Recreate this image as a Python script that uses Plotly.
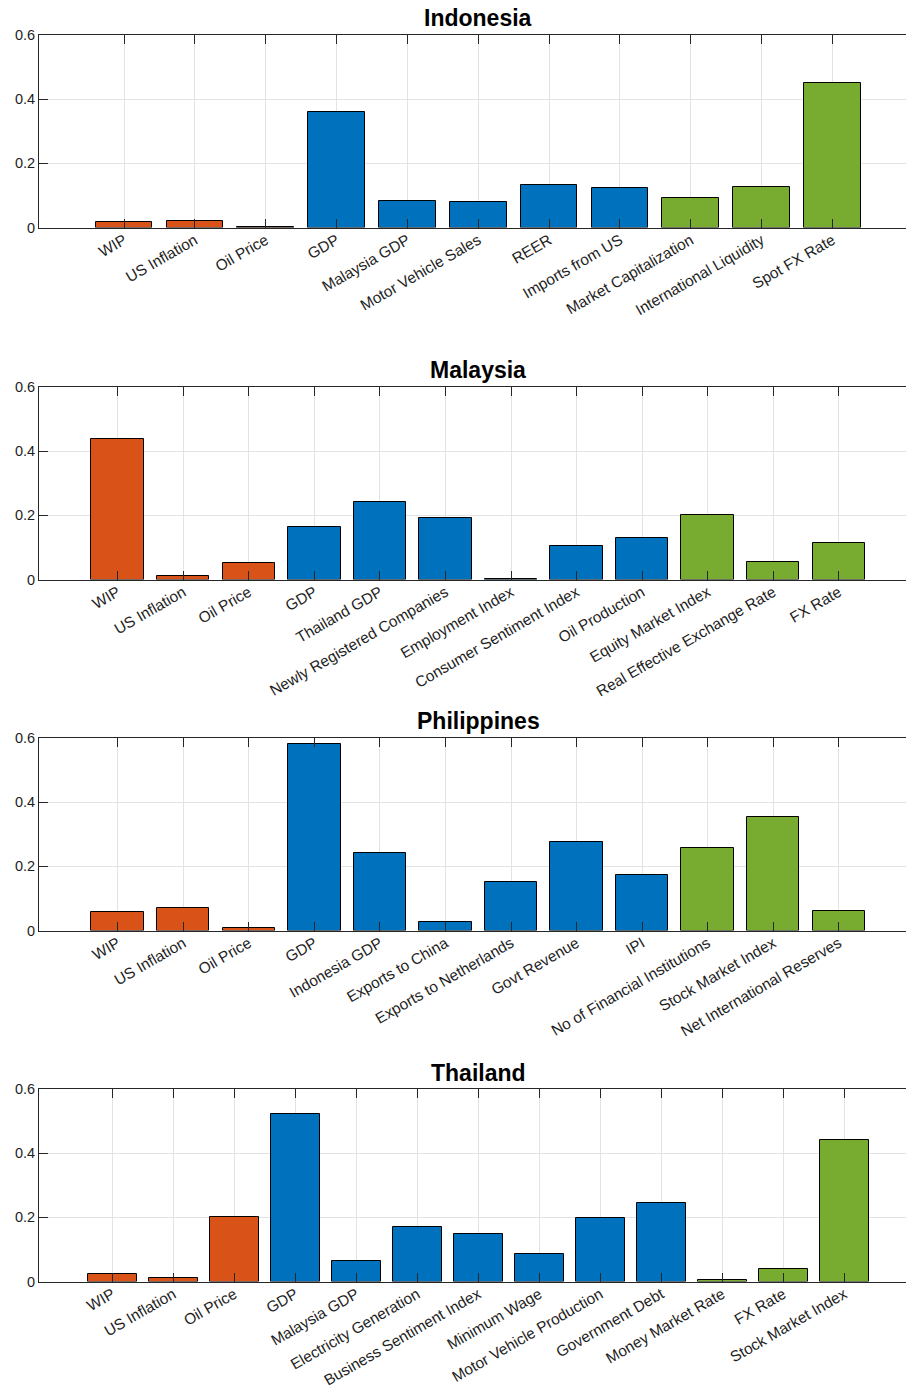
import plotly.graph_objects as go

# ---- data -------------------------------------------------------------
countries = ["Indonesia", "Malaysia", "Philippines", "Thailand"]

indonesia_labels = ["WIP", "US Inflation", "Oil Price", "GDP", "Malaysia GDP",
                    "Motor Vehicle Sales", "REER", "Imports from US",
                    "Market Capitalization", "International Liquidity", "Spot FX Rate"]
indonesia_values = [0.018, 0.021, 0.003, 0.360, 0.083, 0.078, 0.132, 0.123,
                    0.093, 0.125, 0.450]
indonesia_groups = ["ext"] * 3 + ["macro"] * 5 + ["fin"] * 3

malaysia_labels = ["WIP", "US Inflation", "Oil Price", "GDP", "Thailand GDP",
                   "Newly Registered Companies", "Employment Index",
                   "Consumer Sentiment Index", "Oil Production",
                   "Equity Market Index", "Real Effective Exchange Rate", "FX Rate"]
malaysia_values = [0.439, 0.012, 0.053, 0.164, 0.242, 0.191, 0.003, 0.104,
                   0.128, 0.200, 0.056, 0.113]
malaysia_groups = ["ext"] * 3 + ["macro"] * 6 + ["fin"] * 3

philippines_labels = ["WIP", "US Inflation", "Oil Price", "GDP", "Indonesia GDP",
                      "Exports to China", "Exports to Netherlands", "Govt Revenue",
                      "IPI", "No of Financial Institutions", "Stock Market Index",
                      "Net International Reserves"]
philippines_values = [0.059, 0.071, 0.008, 0.580, 0.241, 0.027, 0.152, 0.276,
                      0.174, 0.256, 0.353, 0.061]
philippines_groups = ["ext"] * 3 + ["macro"] * 6 + ["fin"] * 3

thailand_labels = ["WIP", "US Inflation", "Oil Price", "GDP", "Malaysia GDP",
                   "Electricity Generation", "Business Sentiment Index",
                   "Minimum Wage", "Motor Vehicle Production", "Government Debt",
                   "Money Market Rate", "FX Rate", "Stock Market Index"]
thailand_values = [0.024, 0.012, 0.201, 0.522, 0.064, 0.169, 0.148, 0.086,
                   0.198, 0.244, 0.005, 0.038, 0.441]
thailand_groups = ["ext"] * 3 + ["macro"] * 7 + ["fin"] * 3

y_ticks = [0, 0.2, 0.4, 0.6]

# ---- styling ----------------------------------------------------------
group_colors = {"ext": "#D95319", "macro": "#0072BD", "fin": "#77AC30"}
FONT = "Liberation Sans, Arial, Helvetica, sans-serif"
INK = "#262626"
TEXT = "#1e1e1e"
GRID = "#e3e3e3"

W, H = 906, 1389
LEFT = 38.5            # left edge of each axes box (px)
AX_RIGHT = 917.5       # right edge of the axes box; page is cut at W
plot_tops = [35, 387, 738, 1089]
plot_h = 192.5
title_centers = [18, 370, 721, 1073]

panels = [
    (indonesia_labels, indonesia_values, indonesia_groups),
    (malaysia_labels, malaysia_values, malaysia_groups),
    (philippines_labels, philippines_values, philippines_groups),
    (thailand_labels, thailand_values, thailand_groups),
]

fig = go.Figure()
layout_axes = {}
annotations = []

for i, (name, (labels, values, groups)) in enumerate(zip(countries, panels), start=1):
    n = len(labels)
    xs = list(range(1, n + 1))
    xa = "x" if i == 1 else f"x{i}"
    ya = "y" if i == 1 else f"y{i}"
    fig.add_trace(go.Bar(
        x=xs, y=values, width=0.8,
        marker=dict(color=[group_colors[g] for g in groups],
                    line=dict(color="#000000", width=1)),
        xaxis=xa, yaxis=ya, showlegend=False,
    ))

    # full x-limits run from -0.2 to n+1.2; only part of the box fits the page
    lo, hi = -0.2, n + 1.2
    visible_hi = lo + (hi - lo) * (W - LEFT) / (AX_RIGHT - LEFT)

    top = plot_tops[i - 1]
    ydom = [1 - (top + plot_h) / H, 1 - top / H]

    layout_axes["xaxis" if i == 1 else f"xaxis{i}"] = dict(
        domain=[0, 1], anchor=ya, range=[lo, visible_hi],
        tickmode="array", tickvals=xs, ticktext=labels, tickangle=-30,
        ticks="inside", ticklen=9, tickcolor=INK, tickwidth=1,
        showline=True, linecolor=INK, linewidth=1, mirror="allticks",
        showgrid=True, gridcolor=GRID, gridwidth=1, zeroline=False,
        automargin=False, ticklabelstandoff=-3,
        tickfont=dict(family=FONT, size=15.4, color=TEXT),
    )
    layout_axes["yaxis" if i == 1 else f"yaxis{i}"] = dict(
        domain=ydom, anchor=xa, range=[0, 0.6],
        tickmode="array", tickvals=y_ticks, ticktext=["0", "0.2", "0.4", "0.6"],
        ticks="inside", ticklen=9, tickcolor=INK, tickwidth=1,
        showline=True, linecolor=INK, linewidth=1, mirror=False,
        showgrid=True, gridcolor=GRID, gridwidth=1, zeroline=False,
        automargin=False,
        tickfont=dict(family=FONT, size=14.5, color=TEXT),
    )

    annotations.append(dict(
        text=f"<b>{name}</b>", xref="paper", yref="paper",
        x=((LEFT + AX_RIGHT) / 2 - LEFT) / (W - LEFT),
        y=1 - title_centers[i - 1] / H,
        xanchor="center", yanchor="middle", showarrow=False,
        font=dict(family=FONT, size=23, color="#000000"),
    ))

fig.update_layout(
    width=W, height=H,
    margin=dict(l=LEFT, r=0, t=0, b=0, pad=0, autoexpand=False),
    paper_bgcolor="white", plot_bgcolor="white",
    bargap=0, annotations=annotations,
    **layout_axes,
)

fig.write_html("out.html")
